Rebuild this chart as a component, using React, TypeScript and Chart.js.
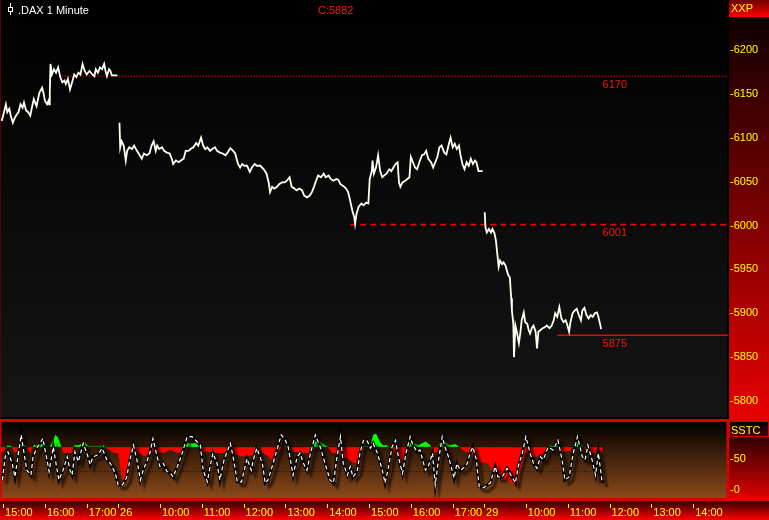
import React, { useEffect, useRef } from 'react';
import { Chart, registerables } from 'chart.js';

Chart.register(...registerables);

// ---------- text ----------
const TITLE = '.DAX 1 Minute';
const CLOSE_LABEL = 'C:5882';
const PRICE_AXIS_TITLE = 'XXP';
const OSC_AXIS_TITLE = 'SSTC';

// ---------- axes (x in trading minutes from 15:00 on the 25th) ----------
const X_MIN = -3;
const X_MAX = 1040;
const X_TICK_T = [0, 60, 120, 165, 225, 285, 345, 405, 465, 525, 585, 645, 690, 750, 810, 870, 930, 990];
const X_TICK_LABELS = ['15:00', '16:00', '17:00', '26', '10:00', '11:00', '12:00', '13:00', '14:00', '15:00', '16:00', '17:00', '29', '10:00', '11:00', '12:00', '13:00', '14:00'];
const PRICE_TICKS = [5800, 5850, 5900, 5950, 6000, 6050, 6100, 6150, 6200];
const PRICE_MIN = 5779.6;
const PRICE_MAX = 6256.8;
const OSC_TICKS = [0, 50];
const OSC_MIN = -15.2;
const OSC_MAX = 111;

// ---------- price series ----------
const DAY1_T = [-2, 0, 4, 6, 9, 11, 14, 17, 20, 22, 25, 28, 30, 33, 36, 39, 41, 44, 46, 48, 52, 56, 58, 60, 63, 65, 66, 67, 68, 70, 73, 76, 79, 82, 85, 88, 90, 93, 96, 99, 102, 105, 108, 111, 114, 117, 120, 124, 128, 131, 133, 136, 139, 142, 145, 147, 149, 152, 154, 156, 164];
const DAY1_P = [6119, 6125, 6138, 6129, 6133, 6125, 6117, 6123, 6127, 6129, 6138, 6134, 6140, 6131, 6129, 6125, 6133, 6144, 6140, 6136, 6151, 6157, 6151, 6142, 6138, 6142, 6138, 6151, 6184, 6172, 6178, 6174, 6180, 6169, 6163, 6165, 6161, 6167, 6155, 6163, 6172, 6169, 6174, 6172, 6184, 6176, 6172, 6176, 6172, 6170, 6178, 6174, 6180, 6178, 6184, 6176, 6170, 6178, 6176, 6171, 6171];

const DAY2_T = [167, 168, 170, 173, 176, 178, 181, 185, 188, 192, 196, 199, 202, 206, 210, 213, 216, 219, 221, 224, 228, 231, 235, 239, 242, 244, 248, 252, 255, 259, 262, 266, 269, 273, 277, 280, 284, 287, 290, 293, 297, 300, 304, 307, 311, 315, 319, 322, 326, 330, 333, 337, 340, 343, 346, 350, 354, 357, 361, 364, 369, 374, 378, 381, 383, 386, 389, 393, 396, 400, 404, 407, 411, 414, 418, 421, 425, 429, 432, 436, 440, 443, 446, 449, 452, 456, 460, 463, 467, 470, 474, 478, 481, 484, 488, 492, 495, 498, 501, 504, 505, 507, 510, 514, 517, 521, 524, 526, 529, 530, 532, 535, 538, 541, 544, 547, 550, 554, 557, 560, 563, 566, 568, 570, 573, 577, 580, 583, 585, 588, 591, 594, 598, 601, 604, 607, 610, 614, 617, 620, 623, 626, 629, 633, 636, 639, 642, 645, 648, 651, 654, 656, 659, 662, 665, 668, 671, 674, 677, 679, 682, 688];
const DAY2_P = [6117, 6089, 6096, 6091, 6074, 6085, 6089, 6087, 6091, 6085, 6080, 6076, 6082, 6080, 6082, 6091, 6096, 6085, 6091, 6087, 6089, 6085, 6083, 6082, 6076, 6070, 6074, 6072, 6074, 6076, 6085, 6085, 6087, 6089, 6094, 6091, 6100, 6091, 6087, 6089, 6085, 6087, 6089, 6085, 6083, 6082, 6080, 6083, 6088, 6085, 6082, 6070, 6066, 6070, 6068, 6068, 6061, 6066, 6070, 6068, 6068, 6064, 6059, 6049, 6038, 6044, 6042, 6044, 6047, 6049, 6049, 6051, 6055, 6044, 6042, 6040, 6042, 6040, 6034, 6032, 6034, 6038, 6044, 6051, 6057, 6055, 6059, 6055, 6057, 6053, 6051, 6053, 6052, 6047, 6045, 6042, 6038, 6028, 6017, 6009, 6002, 6013, 6021, 6025, 6023, 6026, 6025, 6053, 6062, 6074, 6059, 6066, 6080, 6062, 6055, 6057, 6059, 6064, 6062, 6066, 6070, 6072, 6049, 6044, 6049, 6051, 6053, 6055, 6078, 6072, 6066, 6064, 6074, 6080, 6081, 6085, 6076, 6072, 6066, 6072, 6078, 6089, 6091, 6083, 6081, 6091, 6100, 6089, 6093, 6087, 6091, 6081, 6070, 6064, 6072, 6068, 6076, 6070, 6074, 6072, 6062, 6062];

const DAY3_T = [690, 691, 692, 694, 697, 700, 702, 705, 707, 709, 711, 713, 716, 718, 721, 723, 725, 727, 729, 730, 732, 733, 735, 737, 740, 742, 744, 747, 749, 752, 754, 756, 759, 761, 764, 766, 768, 771, 774, 777, 780, 784, 787, 790, 792, 795, 798, 801, 804, 807, 809, 812, 814, 817, 820, 823, 826, 829, 831, 834, 837, 840, 843, 846, 849, 852, 854, 857, 858];
const DAY3_P = [6013, 6015, 5998, 5992, 5996, 5992, 5996, 5991, 5983, 5968, 5953, 5960, 5956, 5958, 5954, 5948, 5943, 5941, 5917, 5903, 5888, 5850, 5886, 5879, 5866, 5877, 5892, 5901, 5890, 5888, 5881, 5877, 5884, 5886, 5879, 5860, 5879, 5881, 5883, 5884, 5886, 5883, 5886, 5892, 5900, 5896, 5907, 5894, 5890, 5892, 5888, 5879, 5890, 5900, 5903, 5905, 5898, 5892, 5903, 5906, 5898, 5894, 5898, 5896, 5900, 5901, 5896, 5886, 5882];

// ---------- price levels ----------
const LEVELS = [6170, 6001, 5875];
const LEVEL_START_T = [84, 498, 795];
const LEVEL_LABEL_T = 860;

// ---------- SSTC oscillator ----------
const K_T = [-1, 3, 7, 13, 17, 22, 26, 30, 34, 40, 43, 49, 53, 57, 63, 66, 72, 75, 80, 86, 92, 96, 99, 103, 108, 115, 121, 125, 129, 136, 142, 149, 154, 161, 165, 171, 177, 182, 187, 192, 197, 201, 207, 211, 215, 221, 225, 230, 235, 240, 244, 250, 257, 264, 271, 278, 283, 287, 293, 297, 301, 307, 311, 317, 326, 330, 336, 342, 346, 350, 356, 359, 364, 372, 376, 380, 386, 390, 399, 405, 409, 416, 422, 426, 431, 436, 441, 448, 455, 462, 469, 474, 479, 484, 488, 494, 498, 502, 508, 512, 517, 522, 527, 531, 537, 544, 548, 552, 558, 563, 567, 573, 578, 584, 588, 594, 598, 606, 610, 616, 620, 624, 630, 634, 639, 644, 647, 651, 656, 660, 666, 670, 674, 679, 683, 689, 695, 699, 706, 710, 716, 723, 730, 735, 739, 745, 750, 756, 761, 766, 771, 775, 782, 789, 796, 802, 806, 812, 818, 824, 831, 835, 839, 845, 850, 854, 859, 861];
const K_V = [16, 54, 62, 43, 21, 60, 90, 60, 32, 24, 54, 70, 76, 84, 49, 30, 70, 49, 16, 32, 54, 32, 24, 62, 46, 76, 57, 41, 54, 57, 68, 49, 43, 27, 8, 8, 19, 49, 73, 49, 16, 32, 49, 62, 84, 54, 38, 43, 30, 27, 21, 38, 60, 87, 87, 79, 73, 32, 13, 38, 60, 43, 16, 49, 76, 54, 13, 13, 32, 51, 32, 49, 68, 43, 11, 16, 38, 54, 90, 81, 70, 24, 54, 60, 43, 32, 60, 90, 70, 43, 16, 11, 54, 87, 43, 24, 38, 21, 30, 60, 81, 81, 68, 76, 60, 32, 11, 32, 70, 81, 54, 27, 60, 87, 73, 62, 65, 32, 38, 60, 8, 43, 87, 70, 54, 32, 19, 43, 32, 35, 43, 60, 70, 49, 5, 3, 8, 11, 38, 21, 21, 35, 21, 11, 38, 60, 87, 60, 43, 35, 54, 49, 70, 65, 81, 49, 16, 21, 60, 87, 54, 49, 73, 49, 24, 60, 16, 11];

const D_T = [-3, 0, 6, 11, 16, 22, 26, 32, 36, 40, 44, 49, 53, 59, 63, 67, 72, 75, 79, 83, 86, 93, 98, 102, 108, 115, 119, 123, 132, 139, 144, 148, 153, 158, 165, 169, 172, 177, 179, 184, 189, 197, 204, 208, 214, 217, 221, 230, 240, 250, 258, 264, 271, 278, 283, 287, 297, 307, 316, 321, 326, 330, 340, 350, 359, 364, 369, 372, 380, 386, 390, 393, 400, 405, 412, 416, 426, 431, 438, 443, 448, 455, 462, 466, 472, 479, 488, 498, 505, 509, 515, 519, 527, 531, 535, 541, 545, 551, 555, 560, 565, 574, 578, 584, 591, 596, 606, 613, 617, 623, 627, 634, 641, 649, 656, 663, 670, 677, 684, 695, 703, 709, 716, 723, 730, 737, 741, 745, 749, 756, 763, 771, 778, 782, 788, 794, 799, 806, 814, 819, 824, 831, 835, 842, 850, 852, 857, 861];
const D_V = [60, 62, 72, 72, 62, 62, 73, 73, 62, 62, 73, 73, 76, 76, 70, 70, 82, 90, 85, 72, 60, 60, 60, 73, 73, 76, 76, 71, 71, 71, 73, 68, 65, 60, 60, 30, 11, 20, 38, 60, 62, 58, 55, 60, 62, 74, 62, 60, 65, 60, 62, 76, 76, 76, 70, 62, 62, 60, 60, 62, 71, 60, 55, 55, 57, 71, 70, 60, 55, 48, 55, 60, 70, 71, 70, 62, 62, 60, 60, 70, 79, 79, 73, 70, 60, 60, 55, 48, 43, 50, 65, 71, 73, 90, 92, 78, 73, 73, 68, 65, 55, 46, 60, 76, 76, 73, 79, 73, 60, 62, 79, 79, 73, 75, 68, 62, 60, 55, 45, 43, 30, 25, 20, 15, 10, 4, 30, 45, 62, 57, 54, 55, 64, 73, 71, 76, 62, 62, 64, 72, 79, 73, 65, 60, 60, 68, 64, 58];
const OSC_BANDS = [70, 30];

const FONT = '"Liberation Sans", Arial, sans-serif';
const YELLOW = '#ffff00';
const RED_TEXT = '#ff1010';

function pts(ts: number[], vs: number[]) {
  return ts.map((t, i) => ({ x: t, y: vs[i] }));
}

const noPadY = (w: number) => (s: any) => {
  s.width = w;
  s.paddingTop = 0;
  s.paddingBottom = 0;
};

export default function App() {
  const topRef = useRef<HTMLCanvasElement | null>(null);
  const botRef = useRef<HTMLCanvasElement | null>(null);

  useEffect(() => {
    Chart.defaults.font.family = FONT;
    const priceData: any[] = [
      ...pts(DAY1_T, DAY1_P),
      { x: 165.5, y: null },
      ...pts(DAY2_T, DAY2_P),
      { x: 689, y: null },
      ...pts(DAY3_T, DAY3_P),
    ];
    const levelStyles = [
      { dash: [1, 2], width: 1.5 },
      { dash: [6, 4], width: 1.7 },
      { dash: [], width: 1.7 },
    ];
    const levelSets = LEVELS.map((lv, i) => ({
      data: [{ x: LEVEL_START_T[i], y: lv }, { x: X_MAX, y: lv }],
      borderColor: '#f00000',
      borderWidth: levelStyles[i].width,
      borderDash: levelStyles[i].dash,
      pointRadius: 0,
      tension: 0,
    }));

    const topBg = {
      id: 'topBg',
      beforeDraw(chart: any) {
        const ctx = chart.ctx;
        const a = chart.chartArea;
        const W = chart.width;
        const H = chart.height;
        ctx.save();
        ctx.fillStyle = '#000';
        ctx.fillRect(0, 0, W, H);
        const g = ctx.createLinearGradient(0, 0, 0, H);
        g.addColorStop(0, '#000000');
        g.addColorStop(1, '#151515');
        ctx.fillStyle = g;
        ctx.fillRect(a.left, 0, a.right - a.left - 1, H - 2);
        ctx.fillStyle = '#5a0000';
        ctx.fillRect(0, 0, 1, H);
        const g2 = ctx.createLinearGradient(0, 17, 0, H);
        g2.addColorStop(0, '#100000');
        g2.addColorStop(1, '#e80000');
        ctx.fillStyle = g2;
        ctx.fillRect(a.right + 1, 17, W - a.right - 1, H - 17);
        const g3 = ctx.createLinearGradient(0, 0, 0, 17);
        g3.addColorStop(0, '#700000');
        g3.addColorStop(1, '#ff0000');
        ctx.fillStyle = g3;
        ctx.fillRect(a.right + 1, 0, W - a.right - 1, 17);
        ctx.restore();
      },
      afterDraw(chart: any) {
        const ctx = chart.ctx;
        const a = chart.chartArea;
        const xs = chart.scales.x;
        const ys = chart.scales.y;
        ctx.save();
        ctx.font = '11px ' + FONT;
        ctx.textBaseline = 'alphabetic';
        ctx.fillStyle = '#ffffff';
        ctx.fillText(TITLE, 18, 14);
        ctx.fillStyle = RED_TEXT;
        ctx.fillText(CLOSE_LABEL, 318, 14);
        ctx.fillStyle = YELLOW;
        ctx.fillText(PRICE_AXIS_TITLE, a.right + 3, 12);
        // candle icon
        ctx.strokeStyle = '#ffffff';
        ctx.lineWidth = 1;
        ctx.beginPath();
        ctx.moveTo(10.5, 3);
        ctx.lineTo(10.5, 15);
        ctx.stroke();
        ctx.fillStyle = '#000';
        ctx.fillRect(8, 7, 5, 5);
        ctx.strokeRect(8.5, 7.5, 4, 4);
        // level labels
        ctx.fillStyle = RED_TEXT;
        ctx.textBaseline = 'top';
        LEVELS.forEach((lv) => {
          ctx.fillText(String(lv), xs.getPixelForValue(LEVEL_LABEL_T), ys.getPixelForValue(lv) + 3);
        });
        ctx.restore();
      },
    };

    const top = new Chart(topRef.current as HTMLCanvasElement, {
      type: 'line',
      data: {
        datasets: [
          {
            data: priceData,
            borderColor: '#fffff2',
            borderWidth: 1.8,
            pointRadius: 0,
            tension: 0,
            spanGaps: false,
          },
          ...levelSets,
        ] as any,
      },
      options: {
        animation: false,
        responsive: false,
        devicePixelRatio: 1,
        layout: { padding: { left: 1, top: 0, right: 0, bottom: 0 } },
        plugins: { legend: { display: false }, tooltip: { enabled: false } },
        scales: {
          x: { type: 'linear', min: X_MIN, max: X_MAX, display: false },
          y: {
            type: 'linear',
            position: 'right',
            min: PRICE_MIN,
            max: PRICE_MAX,
            afterFit: noPadY(41),
            afterBuildTicks: (s: any) => { s.ticks = PRICE_TICKS.map((v) => ({ value: v })); },
            grid: { display: false, drawTicks: false },
            border: { display: false },
            ticks: { color: YELLOW, font: { size: 11 }, padding: 2, callback: (v: any) => '-' + v },
          },
        },
      } as any,
      plugins: [topBg],
    });

    // ---------- oscillator chart ----------
    const shadow = {
      id: 'kShadow',
      beforeDatasetDraw(chart: any, args: any) {
        if (args.index !== 1) return;
        const ctx = chart.ctx;
        ctx.save();
        ctx.shadowColor = 'rgba(0,0,0,0.55)';
        ctx.shadowOffsetX = 4;
        ctx.shadowOffsetY = 4;
        ctx.shadowBlur = 2;
      },
      afterDatasetDraw(chart: any, args: any) {
        if (args.index !== 1) return;
        chart.ctx.restore();
      },
    };

    const botBg = {
      id: 'botBg',
      beforeDraw(chart: any) {
        const ctx = chart.ctx;
        const a = chart.chartArea;
        const W = chart.width;
        const H = chart.height;
        ctx.save();
        ctx.fillStyle = '#d80000';
        ctx.fillRect(0, 0, W, H);
        const g = ctx.createLinearGradient(0, a.top, 0, a.bottom);
        g.addColorStop(0, '#000000');
        g.addColorStop(1, '#8e4a1a');
        ctx.fillStyle = g;
        ctx.fillRect(a.left + 0.5, a.top, a.right - a.left - 2, a.bottom - a.top - 1);
        // right column
        const g2 = ctx.createLinearGradient(0, a.top + 15, 0, a.bottom);
        g2.addColorStop(0, '#300000');
        g2.addColorStop(1, '#e00000');
        ctx.fillStyle = g2;
        ctx.fillRect(a.right + 1, a.top + 15, W - a.right - 1, a.bottom - a.top - 15);
        const g3 = ctx.createLinearGradient(0, a.top, 0, a.top + 15);
        g3.addColorStop(0, '#000000');
        g3.addColorStop(1, '#500000');
        ctx.fillStyle = g3;
        ctx.fillRect(a.right + 2, a.top, W - a.right - 3, 14);
        // x axis strip
        const g4 = ctx.createLinearGradient(0, a.bottom + 2, 0, H);
        g4.addColorStop(0, '#300000');
        g4.addColorStop(1, '#ff0000');
        ctx.fillStyle = g4;
        ctx.fillRect(0, a.bottom + 2, W, H - a.bottom - 2);
        ctx.restore();
      },
      afterDraw(chart: any) {
        const ctx = chart.ctx;
        const a = chart.chartArea;
        const xs = chart.scales.x;
        ctx.save();
        ctx.fillStyle = YELLOW;
        X_TICK_T.forEach((t) => {
          const px = Math.round(xs.getPixelForValue(t));
          ctx.fillRect(px, a.bottom + 5, 1, 4);
        });
        ctx.font = '11px ' + FONT;
        ctx.textBaseline = 'alphabetic';
        ctx.fillText(OSC_AXIS_TITLE, a.right + 3, a.top + 12);
        ctx.restore();
      },
    };

    const bandSets = OSC_BANDS.map((b) => ({
      data: [{ x: K_T[0], y: b }, { x: K_T[K_T.length - 1], y: b }],
      borderColor: 'rgba(20,10,0,0.9)',
      borderWidth: 1,
      borderDash: [1, 2],
      pointRadius: 0,
    }));

    const bot = new Chart(botRef.current as HTMLCanvasElement, {
      type: 'line',
      data: {
        datasets: [
          {
            data: pts(K_T, K_V),
            borderColor: '#ffffff',
            borderWidth: 1.2,
            borderDash: [4, 3],
            pointRadius: 0,
            tension: 0,
          },
          {
            data: pts(K_T, K_V),
            borderColor: '#000000',
            borderWidth: 3,
            pointRadius: 0,
            tension: 0,
          },
          ...bandSets,
          {
            data: pts(D_T, D_V),
            borderColor: 'rgba(0,0,0,0)',
            borderWidth: 0,
            pointRadius: 0,
            tension: 0,
            fill: { target: { value: 70 }, above: '#00ff00', below: '#ff0000' },
          },
        ] as any,
      },
      options: {
        animation: false,
        responsive: false,
        devicePixelRatio: 1,
        layout: { padding: { left: 1, top: 3, right: 0, bottom: 0 } },
        plugins: { legend: { display: false }, tooltip: { enabled: false } },
        scales: {
          x: {
            type: 'linear',
            min: X_MIN,
            max: X_MAX,
            afterFit: (s: any) => { s.height = 21; s.paddingLeft = 0; s.paddingRight = 0; },
            afterBuildTicks: (s: any) => { s.ticks = X_TICK_T.map((v) => ({ value: v })); },
            grid: { display: false, drawTicks: false },
            border: { display: false },
            ticks: {
              color: YELLOW,
              font: { size: 11 },
              autoSkip: false,
              maxRotation: 0,
              minRotation: 0,
              align: 'start',
              labelOffset: 2,
              padding: 7,
              callback: (_v: any, i: number) => X_TICK_LABELS[i],
            },
          },
          y: {
            type: 'linear',
            position: 'right',
            min: OSC_MIN,
            max: OSC_MAX,
            afterFit: noPadY(41),
            afterBuildTicks: (s: any) => { s.ticks = OSC_TICKS.map((v) => ({ value: v })); },
            grid: { display: false, drawTicks: false },
            border: { display: false },
            ticks: { color: YELLOW, font: { size: 11 }, padding: 2, callback: (v: any) => '-' + v },
          },
        },
      } as any,
      plugins: [botBg, shadow],
    });

    return () => {
      top.destroy();
      bot.destroy();
    };
  }, []);

  return (
    <div style={{ position: 'absolute', left: 0, top: 0, width: 769, height: 520, background: '#000', overflow: 'hidden' }}>
      <canvas ref={topRef} width={769} height={419} style={{ position: 'absolute', left: 0, top: 0, width: 769, height: 419 }} />
      <canvas ref={botRef} width={769} height={101} style={{ position: 'absolute', left: 0, top: 419, width: 769, height: 101 }} />
    </div>
  );
}
